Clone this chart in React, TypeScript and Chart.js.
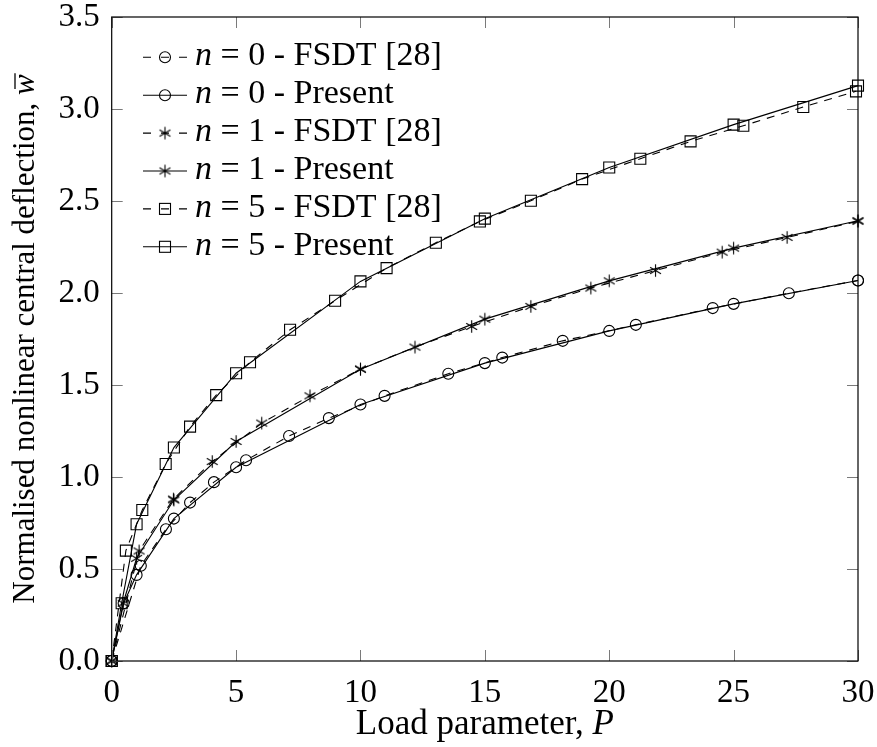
import React, { useEffect, useRef } from 'react';
import { Chart, registerables } from 'chart.js';

Chart.register(...registerables);

const FONT = '"Liberation Serif", "Times New Roman", serif';

// n = 0
const P0_FSDT = [0, 1.17, 2.18, 3.15, 4.11, 5.4, 7.13, 8.73, 10.97, 13.53, 15.7, 18.13, 21.07, 24.16, 27.22, 30];
const W0_FSDT = [0, 0.518, 0.716, 0.861, 0.972, 1.091, 1.223, 1.32, 1.441, 1.561, 1.649, 1.74, 1.827, 1.918, 1.999, 2.068];
const P0_PRES = [0, 0.48, 1, 2.5, 5, 10, 15, 20, 25, 30];
const W0_PRES = [0, 0.314, 0.468, 0.774, 1.053, 1.394, 1.619, 1.794, 1.941, 2.068];

// n = 1
const P1_FSDT = [0, 1.1, 2.48, 4.04, 6.03, 7.97, 10, 12.19, 14.47, 16.85, 19.26, 21.86, 24.54, 27.15, 30];
const W1_FSDT = [0, 0.598, 0.88, 1.084, 1.293, 1.441, 1.586, 1.706, 1.818, 1.927, 2.027, 2.122, 2.222, 2.302, 2.39];
const P1_PRES = [0, 0.46, 1, 2.5, 5, 10, 15, 20, 25, 30];
const W1_PRES = [0, 0.314, 0.558, 0.875, 1.193, 1.586, 1.858, 2.066, 2.244, 2.393];

// n = 5
const P5_FSDT = [0, 0.57, 1.23, 2.17, 3.15, 4.2, 5.56, 7.17, 8.98, 11.05, 13.03, 14.8, 16.85, 18.91, 21.25, 23.27, 25.39, 27.8, 29.92];
const W5_FSDT = [0, 0.6, 0.821, 1.071, 1.274, 1.445, 1.624, 1.8, 1.958, 2.135, 2.273, 2.389, 2.501, 2.619, 2.73, 2.824, 2.909, 3.011, 3.096];
const P5_PRES = [0, 0.4, 1, 2.5, 5, 10, 15, 20, 25, 30];
const W5_PRES = [0, 0.314, 0.743, 1.16, 1.564, 2.063, 2.404, 2.682, 2.915, 3.127];

const X_TICKS = [0, 5, 10, 15, 20, 25, 30];
const Y_TICKS = [0, 0.5, 1, 1.5, 2, 2.5, 3, 3.5];

const SERIES_N = ['0', '0', '1', '1', '5', '5'];
const SERIES_SRC = ['FSDT [28]', 'Present', 'FSDT [28]', 'Present', 'FSDT [28]', 'Present'];
const MARKS = ['circle', 'circle', 'star', 'star', 'square', 'square'];
const DASHED = [true, false, true, false, true, false];

const DASH = [8, 7];
const LW = 1.1;

function makeStar(): HTMLCanvasElement {
  const c = document.createElement('canvas');
  c.width = 15;
  c.height = 15;
  const g = c.getContext('2d')!;
  g.strokeStyle = '#000';
  g.lineWidth = 1.1;
  g.beginPath();
  const r = 6.3;
  for (const deg of [90, 30, 150]) {
    const a = (deg * Math.PI) / 180;
    g.moveTo(7.5 - r * Math.cos(a), 7.5 - r * Math.sin(a));
    g.lineTo(7.5 + r * Math.cos(a), 7.5 + r * Math.sin(a));
  }
  g.stroke();
  return c;
}

function drawMark(ctx: CanvasRenderingContext2D, kind: string, x: number, y: number, star: HTMLCanvasElement) {
  ctx.save();
  ctx.setLineDash([]);
  ctx.strokeStyle = '#000';
  ctx.lineWidth = LW;
  if (kind === 'circle') {
    ctx.beginPath();
    ctx.arc(x, y, 5.5, 0, Math.PI * 2);
    ctx.stroke();
  } else if (kind === 'square') {
    ctx.strokeRect(x - 5.5, y - 5.5, 11, 11);
  } else {
    ctx.drawImage(star, x - 7.5, y - 7.5);
  }
  ctx.restore();
}

export default function App() {
  const ref = useRef<HTMLCanvasElement | null>(null);

  useEffect(() => {
    document.body.style.margin = '0';
    const canvas = ref.current!;
    const star = makeStar();

    const ps = [P0_FSDT, P0_PRES, P1_FSDT, P1_PRES, P5_FSDT, P5_PRES];
    const ws = [W0_FSDT, W0_PRES, W1_FSDT, W1_PRES, W5_FSDT, W5_PRES];

    const datasets = ps.map((P, k) => ({
      label: `n = ${SERIES_N[k]} - ${SERIES_SRC[k]}`,
      data: P.map((x, i) => ({ x, y: ws[k][i] })),
      showLine: true,
      borderColor: '#000',
      borderWidth: LW,
      borderDash: DASHED[k] ? DASH : [],
      pointStyle: MARKS[k] === 'circle' ? 'circle' : MARKS[k] === 'square' ? 'rect' : star,
      pointRadius: MARKS[k] === 'circle' ? 5.5 : MARKS[k] === 'square' ? 7.78 : 7.5,
      pointBorderColor: '#000',
      pointBackgroundColor: 'rgba(0,0,0,0)',
      pointBorderWidth: LW,
      fill: false,
      tension: 0,
      clip: false as any,
    }));

    const framePlugin = {
      id: 'frameAndLegend',
      afterDraw(chart: any) {
        const ctx: CanvasRenderingContext2D = chart.ctx;
        const { left, right, top, bottom } = chart.chartArea;
        const xs = chart.scales.x;
        const ys = chart.scales.y;
        ctx.save();
        // inward ticks
        ctx.strokeStyle = '#7a7a7a';
        ctx.lineWidth = 1;
        ctx.beginPath();
        const TL = 11;
        for (const v of X_TICKS) {
          const px = Math.round(xs.getPixelForValue(v)) + 0.5;
          ctx.moveTo(px, bottom);
          ctx.lineTo(px, bottom - TL);
          ctx.moveTo(px, top);
          ctx.lineTo(px, top + TL);
        }
        for (const v of Y_TICKS) {
          const py = Math.round(ys.getPixelForValue(v)) + 0.5;
          ctx.moveTo(left, py);
          ctx.lineTo(left + TL, py);
          ctx.moveTo(right, py);
          ctx.lineTo(right - TL, py);
        }
        ctx.stroke();
        // frame
        ctx.strokeStyle = '#000';
        ctx.lineWidth = 1.2;
        ctx.strokeRect(left, top, right - left, bottom - top);

        // legend
        const rowY0 = 57.3;
        const rowH = 37.9;
        const x0 = 143;
        const x1 = 187;
        const xm = 165;
        const tx = 195;
        chart.data.datasets.forEach((ds: any, k: number) => {
          const y = rowY0 + rowH * k;
          ctx.save();
          ctx.strokeStyle = '#000';
          ctx.lineWidth = LW;
          if (DASHED[k]) {
            ctx.setLineDash([8, 10]);
          } else {
            ctx.setLineDash([]);
          }
          ctx.beginPath();
          ctx.moveTo(x0, y);
          ctx.lineTo(x1, y);
          ctx.stroke();
          ctx.restore();
          drawMark(ctx, MARKS[k], xm, y, star);
          ctx.fillStyle = '#000';
          ctx.textBaseline = 'alphabetic';
          ctx.textAlign = 'left';
          ctx.font = `italic 34px ${FONT}`;
          ctx.fillText('n', tx, y + 8);
          const wn = ctx.measureText('n').width;
          ctx.font = `34px ${FONT}`;
          ctx.fillText(` = ${SERIES_N[k]} - ${SERIES_SRC[k]}`, tx + wn, y + 8);
        });

        // x axis title
        ctx.fillStyle = '#000';
        ctx.textBaseline = 'alphabetic';
        ctx.textAlign = 'left';
        const xt1 = 'Load parameter, ';
        ctx.font = `35px ${FONT}`;
        const w1 = ctx.measureText(xt1).width;
        ctx.font = `italic 35px ${FONT}`;
        const w2 = ctx.measureText('P').width;
        const cx = (left + right) / 2;
        const sx = cx - (w1 + w2) / 2;
        ctx.font = `35px ${FONT}`;
        ctx.fillText(xt1, sx, 734);
        ctx.font = `italic 35px ${FONT}`;
        ctx.fillText('P', sx + w1, 734);

        // y axis title
        ctx.save();
        ctx.translate(34, (top + bottom) / 2);
        ctx.rotate(-Math.PI / 2);
        const yt1 = 'Normalised nonlinear central deflection, ';
        ctx.font = `31px ${FONT}`;
        const yw1 = ctx.measureText(yt1).width;
        ctx.font = `italic 31px ${FONT}`;
        const yw2 = ctx.measureText('w').width;
        const ysx = -(yw1 + yw2) / 2;
        ctx.font = `31px ${FONT}`;
        ctx.fillText(yt1, ysx, 0);
        ctx.font = `italic 31px ${FONT}`;
        ctx.fillText('w', ysx + yw1, 0);
        ctx.strokeStyle = '#000';
        ctx.lineWidth = 1.3;
        ctx.beginPath();
        ctx.moveTo(ysx + yw1 + 6, -19);
        ctx.lineTo(ysx + yw1 + yw2 + 1, -19);
        ctx.stroke();
        ctx.restore();

        ctx.restore();
      },
    };

    const chart = new Chart(canvas, {
      type: 'scatter',
      data: { datasets: datasets as any },
      options: {
        responsive: false,
        animation: false,
        devicePixelRatio: 1,
        layout: { padding: { top: 17, right: 19, left: 0, bottom: 0 } },
        plugins: {
          legend: { display: false },
          tooltip: { enabled: false },
        },
        scales: {
          x: {
            type: 'linear',
            min: 0,
            max: 30,
            grid: { display: false },
            border: { display: false },
            ticks: {
              stepSize: 5,
              color: '#000',
              font: { family: FONT, size: 33 },
              padding: 5,
              maxRotation: 0,
              autoSkip: false,
            },
            afterFit: (s: any) => {
              s.height = 86;
              s.paddingLeft = 0;
              s.paddingRight = 0;
            },
          },
          y: {
            type: 'linear',
            min: 0,
            max: 3.5,
            grid: { display: false },
            border: { display: false },
            ticks: {
              stepSize: 0.5,
              color: '#000',
              font: { family: FONT, size: 33 },
              padding: 4,
              callback: (v: any) => Number(v).toFixed(1),
            },
            afterFit: (s: any) => {
              s.width = 111.7;
              s.paddingTop = 0;
              s.paddingBottom = 0;
            },
          },
        },
      },
      plugins: [framePlugin],
    });

    return () => chart.destroy();
  }, []);

  return (
    <div style={{ width: 877, height: 747 }}>
      <canvas ref={ref} width={877} height={747} style={{ width: 877, height: 747, display: 'block' }} />
    </div>
  );
}
